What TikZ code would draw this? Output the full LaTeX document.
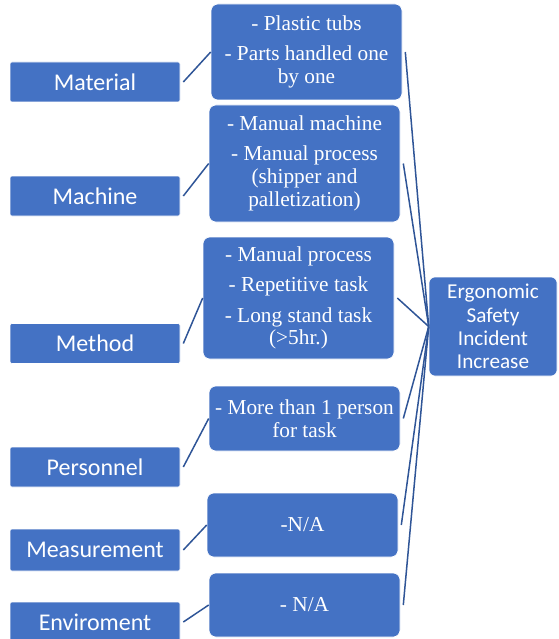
\documentclass[tikz,border=0pt]{standalone}
\usepackage{fontspec}
\setmainfont{Liberation Serif}
\newfontfamily\calibri{Carlito}
\usetikzlibrary{positioning}
\definecolor{boxblue}{HTML}{4472C4}
\definecolor{lineblue}{HTML}{2F5597}

\begin{document}
\begin{tikzpicture}[x=1pt, y=-1pt,
    causebox/.style={draw=white, line width=0.6pt, fill=boxblue, text=white,
      rounded corners=2pt, inner sep=0pt, minimum width=170pt,
      minimum height=40pt, font=\calibri\fontsize{24}{28}\selectfont},
    detailbox/.style={draw=white, line width=0.6pt, fill=boxblue, text=white,
      rounded corners=7pt, inner sep=0pt, minimum width=191pt, align=center,
      font=\fontsize{21.3}{22.8}\selectfont},
    effectbox/.style={draw=white, line width=0.6pt, fill=boxblue, text=white,
      rounded corners=6pt, inner sep=0pt, minimum width=128pt,
      minimum height=99pt, align=center,
      font=\calibri\fontsize{21.2}{23.3}\selectfont},
    link/.style={lineblue, line width=1.5pt}]
  \useasboundingbox (0,0) rectangle (558,639);

  % Causes on the left
  \node[causebox] (material)    at (95,82)  {Material};
  \node[causebox] (machine)     at (95,196) {Machine};
  \node[causebox] (method)      at (95,343.5) {Method};
  \node[causebox] (personnel)   at (95,467) {Personnel};
  \node[causebox, minimum height=42pt] (measurement) at (95,550) {Measurement};
  \node[causebox] (enviroment)  at (95,622) {Enviroment};

  % Details in the middle
  \node[detailbox, minimum height=96pt] (matdet) at (306.5,52)
    {- Plastic tubs\\[7.5pt]- Parts handled one\\by one};
  \node[detailbox, minimum height=117pt] (machdet) at (304.5,163.5)
    {- Manual machine\\[7.5pt]- Manual process\\(shipper and\\palletization)};
  \node[detailbox, minimum height=122pt] (methdet) at (298.5,298)
    {- Manual process\\[7.5pt]- Repetitive task\\[7.5pt]- Long stand task\\(>5hr.)};
  \node[detailbox, minimum height=65pt] (persdet) at (304.5,418.5)
    {- More than 1 person\\for task};
  \node[detailbox, minimum height=64pt] (measdet) at (302.5,525) {-N/A};
  \node[detailbox, minimum height=64pt] (envdet) at (304.5,605) {- N/A};

  % Effect on the right
  \node[effectbox] (effect) at (493,326.5)
    {Ergonomic\\Safety\\Incident\\Increase};

  % Cause to detail links
  \foreach \c/\d in {material/matdet, machine/machdet, method/methdet,
      personnel/persdet, measurement/measdet, enviroment/envdet}
    \draw[link] ([xshift=3pt]\c.east) -- (\d.west);

  % Detail to effect links
  \foreach \d in {matdet, machdet, methdet, persdet, measdet, envdet}
    \draw[link] ([xshift=3pt]\d.east) -- (effect.west);
\end{tikzpicture}
\end{document}
